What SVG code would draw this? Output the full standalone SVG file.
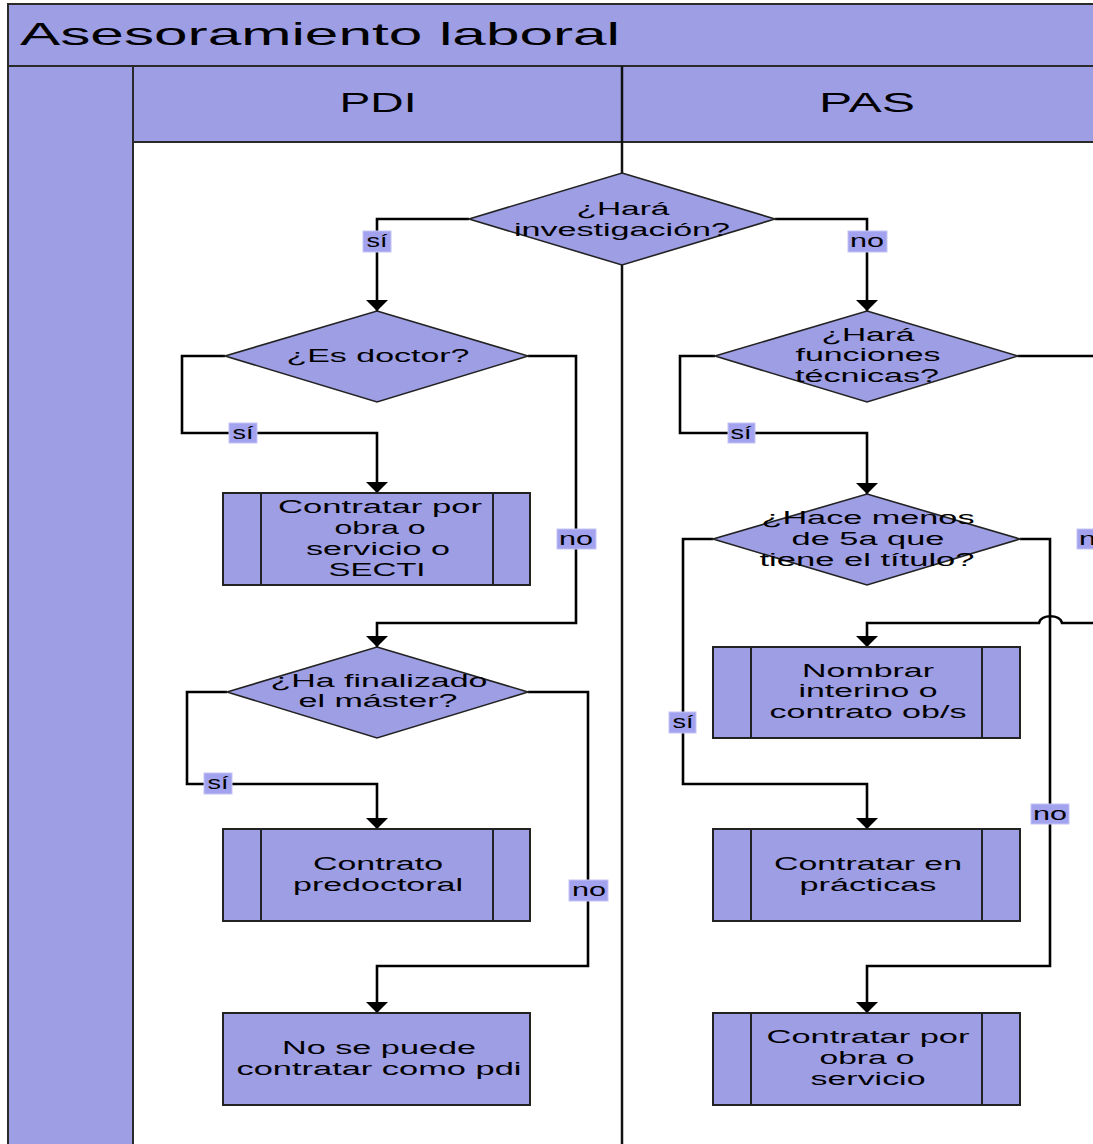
<svg xmlns="http://www.w3.org/2000/svg" width="1093" height="1144" viewBox="0 0 1093 1144">
<defs>
<style>
.band{fill:#9e9ee4;stroke:#2a2a2a;stroke-width:2}
.frame{fill:none;stroke:#111;stroke-width:2.5}
.node{fill:#9e9ee4;stroke:#222;stroke-width:2}
.dia{fill:#9e9ee4;stroke:#222;stroke-width:1.6}
.conn{fill:none;stroke:#000;stroke-width:2.6}
.lbox{fill:#a2a2ee;stroke:#c4c4f4;stroke-width:1}
text{font-family:"Liberation Sans",Arial,sans-serif;fill:#000}
.t{font-size:18px;text-anchor:middle}
.lt{font-size:18px;text-anchor:middle}
.hd{font-size:28px;text-anchor:middle}
.ttl{font-size:32px}
</style>
<marker id="arr" viewBox="0 0 11 22" refX="11" refY="11" markerWidth="11" markerHeight="22" markerUnits="userSpaceOnUse" orient="auto">
<path d="M0,0 L11,11 L0,22 Z" fill="#000"/>
</marker>
</defs>
<rect x="0" y="0" width="1093" height="1144" fill="#fff"/>
<g id="pool">
<rect class="band" x="8" y="4" width="1100" height="62"/>
<text class="ttl" x="20" y="45" textLength="600" lengthAdjust="spacingAndGlyphs">Asesoramiento laboral</text>
<rect class="band" x="8" y="66" width="125" height="1090"/>
<rect class="band" x="133" y="66" width="975" height="76"/>
<text class="hd" x="378" y="112" textLength="77" lengthAdjust="spacingAndGlyphs">PDI</text>
<text class="hd" x="867" y="112" textLength="96" lengthAdjust="spacingAndGlyphs">PAS</text>
<line class="frame" x1="622" y1="66" x2="622" y2="1144"/>
</g>
<g id="connectors">
<path class="conn" marker-end="url(#arr)" d="M469,219 H377 V311"/>
<path class="conn" marker-end="url(#arr)" d="M775,219 H867 V311"/>
<path class="conn" marker-end="url(#arr)" d="M225,356 H182 V433 H377 V493"/>
<path class="conn" marker-end="url(#arr)" d="M528,356 H576 V623 H377 V647"/>
<path class="conn" marker-end="url(#arr)" d="M715,356 H680 V433 H867 V494"/>
<path class="conn" marker-end="url(#arr)" d="M1018,356 H1096 V623 H1062 C1060,614 1041,614 1039,623 H867 V647"/>
<path class="conn" marker-end="url(#arr)" d="M227,692 H187 V784 H377 V829"/>
<path class="conn" marker-end="url(#arr)" d="M528,692 H588 V966 H377 V1013"/>
<path class="conn" marker-end="url(#arr)" d="M713,539 H683 V784 H867 V829"/>
<path class="conn" marker-end="url(#arr)" d="M1020,539 H1050 V966 H867 V1013"/>
<g id="labels">
<rect class="lbox" x="363" y="231" width="28" height="21"/><text class="lt" x="377" y="247" textLength="21" lengthAdjust="spacingAndGlyphs">sí</text>
<rect class="lbox" x="848" y="231" width="39" height="21"/><text class="lt" x="867" y="247" textLength="34" lengthAdjust="spacingAndGlyphs">no</text>
<rect class="lbox" x="229" y="423" width="28" height="20"/><text class="lt" x="243" y="439" textLength="21" lengthAdjust="spacingAndGlyphs">sí</text>
<rect class="lbox" x="557" y="529" width="39" height="20"/><text class="lt" x="576" y="545" textLength="34" lengthAdjust="spacingAndGlyphs">no</text>
<rect class="lbox" x="728" y="423" width="27" height="20"/><text class="lt" x="741" y="439" textLength="21" lengthAdjust="spacingAndGlyphs">sí</text>
<rect class="lbox" x="204" y="773" width="28" height="21"/><text class="lt" x="218" y="789" textLength="21" lengthAdjust="spacingAndGlyphs">sí</text>
<rect class="lbox" x="569" y="880" width="39" height="21"/><text class="lt" x="589" y="896" textLength="34" lengthAdjust="spacingAndGlyphs">no</text>
<rect class="lbox" x="669" y="712" width="27" height="21"/><text class="lt" x="683" y="728" textLength="21" lengthAdjust="spacingAndGlyphs">sí</text>
<rect class="lbox" x="1031" y="804" width="38" height="20"/><text class="lt" x="1050" y="820" textLength="34" lengthAdjust="spacingAndGlyphs">no</text>
<rect class="lbox" x="1077" y="529" width="39" height="20"/><text class="lt" x="1096" y="545" textLength="34" lengthAdjust="spacingAndGlyphs">no</text>
</g>
</g>
<g id="d-investigacion">
<polygon class="dia" points="622,173 775,219 622,265 469,219"/>
<text class="t" x="623" y="215" textLength="93" lengthAdjust="spacingAndGlyphs">¿Hará</text>
<text class="t" x="622" y="236" textLength="216" lengthAdjust="spacingAndGlyphs">investigación?</text>
</g>
<g id="d-doctor">
<polygon class="dia" points="377,311 528,356 377,402 225,356"/>
<text class="t" x="378" y="362" textLength="183" lengthAdjust="spacingAndGlyphs">¿Es doctor?</text>
</g>
<g id="d-tecnicas">
<polygon class="dia" points="867,311 1018,356 867,402 715,356"/>
<text class="t" x="868" y="341" textLength="93" lengthAdjust="spacingAndGlyphs">¿Hará</text>
<text class="t" x="868" y="361" textLength="145" lengthAdjust="spacingAndGlyphs">funciones</text>
<text class="t" x="867" y="382" textLength="144" lengthAdjust="spacingAndGlyphs">técnicas?</text>
</g>
<g id="n-secti">
<rect class="node" x="223" y="493" width="307" height="92"/>
<line class="node" x1="261" y1="493" x2="261" y2="585"/>
<line class="node" x1="493" y1="493" x2="493" y2="585"/>
<text class="t" x="380" y="513" textLength="204" lengthAdjust="spacingAndGlyphs">Contratar por</text>
<text class="t" x="380" y="534" textLength="91" lengthAdjust="spacingAndGlyphs">obra o</text>
<text class="t" x="378" y="555" textLength="144" lengthAdjust="spacingAndGlyphs">servicio o</text>
<text class="t" x="377" y="576" textLength="97" lengthAdjust="spacingAndGlyphs">SECTI</text>
</g>
<g id="d-titulo">
<polygon class="dia" points="867,494 1020,539 867,585 713,539"/>
<text class="t" x="868" y="524" textLength="213" lengthAdjust="spacingAndGlyphs">¿Hace menos</text>
<text class="t" x="868" y="545" textLength="153" lengthAdjust="spacingAndGlyphs">de 5a que</text>
<text class="t" x="867" y="566" textLength="215" lengthAdjust="spacingAndGlyphs">tiene el título?</text>
</g>
<g id="d-master">
<polygon class="dia" points="377,647 528,692 377,738 227,692"/>
<text class="t" x="379" y="687" textLength="217" lengthAdjust="spacingAndGlyphs">¿Ha finalizado</text>
<text class="t" x="378" y="707" textLength="159" lengthAdjust="spacingAndGlyphs">el máster?</text>
</g>
<g id="n-nombrar">
<rect class="node" x="713" y="647" width="307" height="91"/>
<line class="node" x1="751" y1="647" x2="751" y2="738"/>
<line class="node" x1="982" y1="647" x2="982" y2="738"/>
<text class="t" x="868" y="677" textLength="132" lengthAdjust="spacingAndGlyphs">Nombrar</text>
<text class="t" x="868" y="697" textLength="139" lengthAdjust="spacingAndGlyphs">interino o</text>
<text class="t" x="868" y="718" textLength="197" lengthAdjust="spacingAndGlyphs">contrato ob/s</text>
</g>
<g id="n-predoctoral">
<rect class="node" x="223" y="829" width="307" height="92"/>
<line class="node" x1="261" y1="829" x2="261" y2="921"/>
<line class="node" x1="493" y1="829" x2="493" y2="921"/>
<text class="t" x="378" y="870" textLength="130" lengthAdjust="spacingAndGlyphs">Contrato</text>
<text class="t" x="378" y="891" textLength="170" lengthAdjust="spacingAndGlyphs">predoctoral</text>
</g>
<g id="n-practicas">
<rect class="node" x="713" y="829" width="307" height="92"/>
<line class="node" x1="751" y1="829" x2="751" y2="921"/>
<line class="node" x1="982" y1="829" x2="982" y2="921"/>
<text class="t" x="868" y="870" textLength="188" lengthAdjust="spacingAndGlyphs">Contratar en</text>
<text class="t" x="868" y="891" textLength="137" lengthAdjust="spacingAndGlyphs">prácticas</text>
</g>
<g id="n-nopdi">
<rect class="node" x="223" y="1013" width="307" height="92"/>
<text class="t" x="379" y="1054" textLength="194" lengthAdjust="spacingAndGlyphs">No se puede</text>
<text class="t" x="379" y="1075" textLength="285" lengthAdjust="spacingAndGlyphs">contratar como pdi</text>
</g>
<g id="n-obra">
<rect class="node" x="713" y="1013" width="307" height="92"/>
<line class="node" x1="751" y1="1013" x2="751" y2="1105"/>
<line class="node" x1="982" y1="1013" x2="982" y2="1105"/>
<text class="t" x="868" y="1043" textLength="203" lengthAdjust="spacingAndGlyphs">Contratar por</text>
<text class="t" x="867" y="1064" textLength="95" lengthAdjust="spacingAndGlyphs">obra o</text>
<text class="t" x="868" y="1085" textLength="115" lengthAdjust="spacingAndGlyphs">servicio</text>
</g>
</svg>
